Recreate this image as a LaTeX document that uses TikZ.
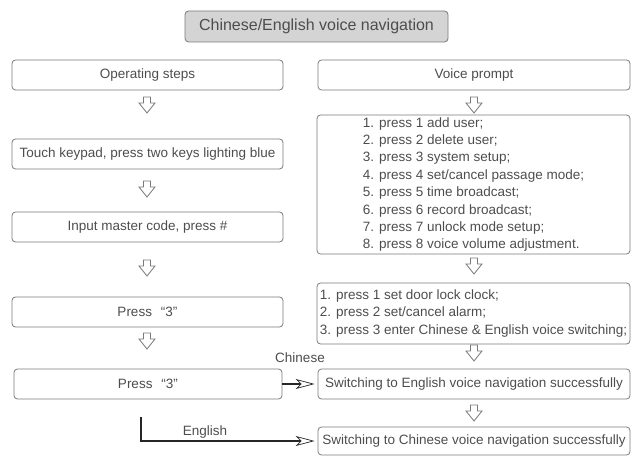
\documentclass[tikz,border=0pt]{standalone}
\usepackage{fontspec}
\setmainfont{Liberation Sans}
\usetikzlibrary{arrows.meta}
\definecolor{txt}{HTML}{4D4D4D}
\definecolor{bord}{HTML}{7A7A7A}
\definecolor{titlefill}{HTML}{D4D4D4}
\begin{document}
\begin{tikzpicture}[x=1bp,y=-1bp,
  box/.style={draw=bord, line width=0.8bp, rounded corners=3.5bp, text=txt,
    font=\fontsize{13.5bp}{17.4bp}\selectfont, inner sep=0pt, align=center},
  titlebox/.style={box, fill=titlefill, font=\fontsize{16bp}{19bp}\selectfont},
  conn/.style={line width=1.8bp, draw=black!85,
    -{Stealth[open, length=19bp, width=10bp, inset=5bp, line width=0.7bp, fill=white]}},
  lbl/.style={text=txt, font=\fontsize{13.5bp}{16bp}\selectfont, inner sep=0pt},
  downarrow/.pic={\draw[draw=bord, fill=white, line width=0.8bp, line join=miter]
    (-3.5,0) -- (3.5,0) -- (3.5,6) -- (8,6) -- (0,16) -- (-8,6) -- (-3.5,6) -- cycle;}
]
\useasboundingbox (0,0) rectangle (632,456);

\node[titlebox, minimum width=263bp, minimum height=31bp] (title) at (316.5,26.5) {Chinese/English voice navigation};

\node[box, minimum width=271bp, minimum height=30bp] (ops) at (147.5,75) {Operating steps};
\node[box, minimum width=312bp, minimum height=30bp] (vp) at (474,75) {Voice prompt};
\pic at (147,97) {downarrow};
\pic at (474,97) {downarrow};

\node[box, minimum width=271bp, minimum height=30bp] (touch) at (147.5,154) {Touch keypad, press two keys lighting blue};
\node[box, minimum width=313bp, minimum height=139bp, align=left] (menu) at (473.5,184.5)
  {1. press 1 add user;\\
   2. press 2 delete user;\\
   3. press 3 system setup;\\
   4. press 4 set/cancel passage mode;\\
   5. press 5 time broadcast;\\
   6. press 6 record broadcast;\\
   7. press 7 unlock mode setup;\\
   8. press 8 voice volume adjustment.};
\pic at (147,181) {downarrow};

\node[box, minimum width=271bp, minimum height=30bp] (master) at (147.5,227) {Input master code, press \#};
\pic at (147,260) {downarrow};
\pic at (474,258) {downarrow};

\node[box, minimum width=313bp, minimum height=61bp, align=left] (sub) at (473.5,313.5)
  {1. press 1 set door lock clock;\\
   2. press 2 set/cancel alarm;\\
   3. press 3 enter Chinese \& English voice switching;};
\node[box, minimum width=271bp, minimum height=30bp] (p3a) at (147.5,312) {Press\hspace{9bp}“3”};
\pic at (147,333) {downarrow};
\pic at (474,345) {downarrow};

\node[lbl] (chn) at (300,358) {Chinese};
\node[box, minimum width=268bp, minimum height=30bp] (p3b) at (148,384) {Press\hspace{9bp}“3”};
\node[box, minimum width=312bp, minimum height=30bp] (swen) at (474,384) {Switching to English voice navigation successfully};
\pic at (474,405) {downarrow};
\node[box, minimum width=312bp, minimum height=28bp] (swcn) at (474,441) {Switching to Chinese voice navigation successfully};

\coordinate (engstart) at (141,417);
\draw[conn] (p3b.east) -- ([xshift=-3bp]swen.west);
\draw[conn] (engstart) |- ([xshift=-3bp]swcn.west);
\node[lbl] (eng) at (205,432) {English};
\end{tikzpicture}
\end{document}
